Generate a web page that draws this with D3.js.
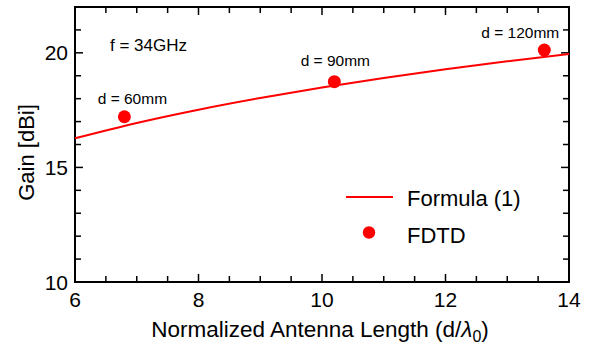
<!DOCTYPE html>
<html>
<head>
<meta charset="utf-8">
<script src="https://cdn.jsdelivr.net/npm/d3@7"></script>
<style>
  body { margin: 0; background: #fff; }
  text { font-family: "Liberation Sans", Arial, sans-serif; fill: #000; }
</style>
</head>
<body>
<div id="chart"></div>
<script>
// Formula (1) curve
const formulaX = [6, 7, 8, 9, 10, 11, 12, 13, 14];
const formulaGain = [16.27, 16.94, 17.52, 18.03, 18.49, 18.90, 19.28, 19.63, 19.95];

// FDTD points
const fdtdX = [6.8, 10.2, 13.6];
const fdtdGain = [17.21, 18.74, 20.12];
const fdtdLabels = ['d = 60mm', 'd = 90mm', 'd = 120mm'];

const xTicks = [6, 8, 10, 12, 14];
const yTicks = [10, 15, 20];

const width = 590, height = 347;
const margin = { left: 75, right: 21, top: 7, bottom: 65 };
const plotW = width - margin.left - margin.right;
const plotH = height - margin.top - margin.bottom;

const x = d3.scaleLinear().domain([6, 14]).range([0, plotW]);
const y = d3.scaleLinear().domain([10, 22]).range([plotH, 0]);

const svg = d3.select('#chart').append('svg')
    .attr('width', width)
    .attr('height', height);

const g = svg.append('g').attr('transform', `translate(${margin.left},${margin.top})`);

// inward ticks on all four sides
const xMinor = d3.range(6, 14.01, 0.5);
const yMinor = d3.range(10, 22.01, 1);

const ticks = g.append('g').attr('stroke', '#000').attr('stroke-width', 1.5);
xMinor.forEach(v => {
    const len = Number.isInteger(v / 2) ? 8 : 6;
    ticks.append('line').attr('x1', x(v)).attr('x2', x(v)).attr('y1', plotH).attr('y2', plotH - len);
    ticks.append('line').attr('x1', x(v)).attr('x2', x(v)).attr('y1', 0).attr('y2', len);
});
yMinor.forEach(v => {
    const len = v % 5 === 0 ? 8 : 6;
    ticks.append('line').attr('y1', y(v)).attr('y2', y(v)).attr('x1', 0).attr('x2', len);
    ticks.append('line').attr('y1', y(v)).attr('y2', y(v)).attr('x1', plotW).attr('x2', plotW - len);
});

// frame
g.append('rect')
    .attr('width', plotW).attr('height', plotH)
    .attr('fill', 'none').attr('stroke', '#000').attr('stroke-width', 2);

// tick labels
g.append('g').selectAll('text')
    .data(xTicks).join('text')
    .attr('x', d => x(d))
    .attr('y', plotH + 25)
    .attr('text-anchor', 'middle')
    .style('font-size', '21px')
    .text(d => d);

g.append('g').selectAll('text')
    .data(yTicks).join('text')
    .attr('x', -7)
    .attr('y', d => y(d) + 7.5)
    .attr('text-anchor', 'end')
    .style('font-size', '21px')
    .text(d => d);

// axis titles
const xt = svg.append('text')
    .attr('x', margin.left + plotW / 2 - 2)
    .attr('y', 337)
    .attr('text-anchor', 'middle')
    .style('font-size', '22.5px');
xt.append('tspan').text('Normalized Antenna Length (d/');
xt.append('tspan').style('font-style', 'italic').text('λ');
xt.append('tspan').attr('dy', 5).style('font-size', '16px').text('0');
xt.append('tspan').attr('dy', -5).text(')');

svg.append('text')
    .attr('transform', `translate(34,${margin.top + plotH / 2 + 8}) rotate(-90)`)
    .attr('text-anchor', 'middle')
    .style('font-size', '22px')
    .text('Gain [dBi]');

// formula line
const line = d3.line()
    .x((d, i) => x(formulaX[i]))
    .y(d => y(d))
    .curve(d3.curveMonotoneX);

g.append('path')
    .datum(formulaGain)
    .attr('d', line)
    .attr('fill', 'none')
    .attr('stroke', '#ff0000')
    .attr('stroke-width', 2);

// FDTD dots
g.append('g').selectAll('circle')
    .data(fdtdGain).join('circle')
    .attr('cx', (d, i) => x(fdtdX[i]))
    .attr('cy', d => y(d))
    .attr('r', 6.5)
    .attr('fill', '#ff0000');

// point labels
const labelOffset = [[8, -13], [1, -16], [-24, -12.5]];
g.append('g').selectAll('text')
    .data(fdtdLabels).join('text')
    .attr('x', (d, i) => x(fdtdX[i]) + labelOffset[i][0])
    .attr('y', (d, i) => y(fdtdGain[i]) + labelOffset[i][1])
    .attr('text-anchor', 'middle')
    .style('font-size', '15.5px')
    .text(d => d);

svg.append('text')
    .attr('x', 110).attr('y', 51)
    .style('font-size', '17px')
    .text('f = 34GHz');

// legend
const leg = svg.append('g');
leg.append('line')
    .attr('x1', 346).attr('x2', 393).attr('y1', 197).attr('y2', 197)
    .attr('stroke', '#ff0000').attr('stroke-width', 2);
leg.append('text').attr('x', 407).attr('y', 206).style('font-size', '22px').text('Formula (1)');
leg.append('circle').attr('cx', 369).attr('cy', 232.5).attr('r', 6.2).attr('fill', '#ff0000');
leg.append('text').attr('x', 407).attr('y', 242.5).style('font-size', '22px').text('FDTD');
</script>
</body>
</html>
